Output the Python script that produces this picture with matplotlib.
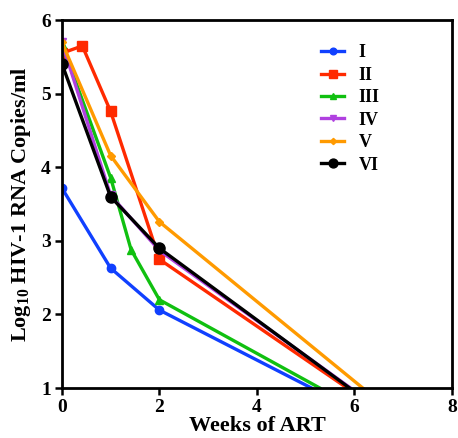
import matplotlib
matplotlib.use("Agg")
import matplotlib.pyplot as plt

plt.rcParams['font.family'] = ['Liberation Serif', 'DejaVu Serif']
plt.rcParams['font.weight'] = 'bold'
plt.rcParams['mathtext.fontset'] = 'custom'
plt.rcParams['mathtext.rm'] = 'Liberation Serif:bold'
plt.rcParams['mathtext.bf'] = 'Liberation Serif:bold'
plt.rcParams['mathtext.default'] = 'bf'

labels = ["I", "II", "III", "IV", "V", "VI"]
colors = ["#1040ff", "#ff2a00", "#10c010", "#b040e0", "#ff9a00", "#000000"]
markers = ["o", "s", "^", "v", "D", "o"]
msizes = [6, 7, 6, 6, 4, 8]

x_I = [0, 1, 2, 5.12]
y_I = [3.72, 2.63, 2.06, 1.0]
x_II = [0, 0.42, 1, 2, 5.85]
y_II = [5.55, 5.65, 4.76, 2.75, 1.0]
x_III = [0, 1, 1.42, 2, 5.29]
y_III = [5.68, 3.86, 2.88, 2.2, 1.0]
x_IV = [0, 1, 2, 5.92]
y_IV = [5.7, 3.62, 2.87, 1.0]
x_V = [0, 1, 2, 6.17]
y_V = [5.7, 4.16, 3.26, 1.0]
x_VI = [0, 1, 2, 5.9]
y_VI = [5.41, 3.6, 2.9, 1.0]

xs = [x_I, x_II, x_III, x_IV, x_V, x_VI]
ys = [y_I, y_II, y_III, y_IV, y_V, y_VI]

fig = plt.figure(figsize=(4.58, 4.38), dpi=100)
ax = fig.add_axes([0.135, 0.114, 0.852, 0.840])

for x, y, c, m, ms, lab in zip(xs, ys, colors, markers, msizes, labels):
    ax.plot(x, y, color=c, marker=m, markersize=ms, linewidth=2.4,
            markevery=list(range(len(x) - 1)), label=lab, clip_on=True)

ax.set_xlim(0, 8)
ax.set_ylim(1, 6)
ax.set_xticks([0, 2, 4, 6, 8])
ax.set_yticks([1, 2, 3, 4, 5, 6])
for s in ax.spines.values():
    s.set_linewidth(2.0)
ax.tick_params(direction='out', length=5, width=1.8, labelsize=14, pad=3)
for t in ax.get_xticklabels() + ax.get_yticklabels():
    t.set_fontweight('bold')

ax.set_xlabel("Weeks of ART", fontsize=16, fontweight='bold', labelpad=0)
ax.set_ylabel(r"Log$_{10}$ HIV-1 RNA Copies/ml", fontsize=16, fontweight='bold', labelpad=6)

leg = ax.legend(loc='upper left', bbox_to_anchor=(0.622, 0.978), frameon=False,
                prop={'family': 'Liberation Serif', 'weight': 'bold', 'size': 13},
                handlelength=1.3, labelspacing=0.3, handletextpad=0.8, markerscale=0.8)

fig.savefig("out.png", dpi=100)
